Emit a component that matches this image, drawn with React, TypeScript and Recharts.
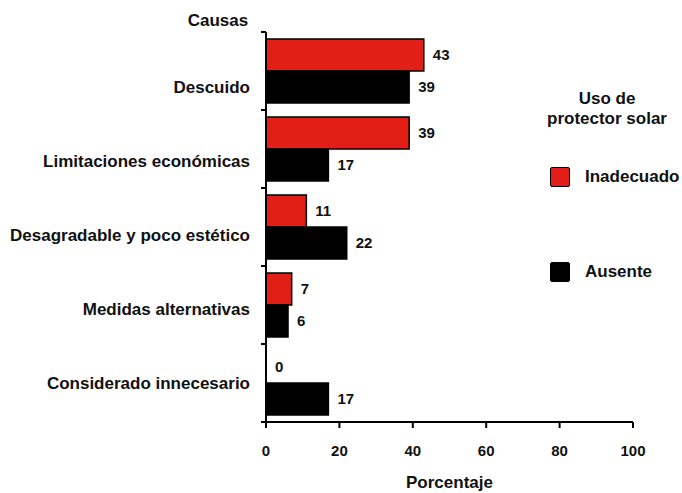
import { Bar, BarChart, LabelList, XAxis, YAxis } from "recharts";

const causas = [
  "Descuido",
  "Limitaciones económicas",
  "Desagradable y poco estético",
  "Medidas alternativas",
  "Considerado innecesario",
];
const inadecuado = [43, 39, 11, 7, 0];
const ausente = [39, 17, 22, 6, 17];
const xTicks = [0, 20, 40, 60, 80, 100];

const data = causas.map((c, i) => ({ causa: c, inadecuado: inadecuado[i], ausente: ausente[i] }));

const RED = "#E21F16";
const FONT = "'Liberation Sans', Arial, sans-serif";
const labelStyle = { fontSize: 15, fontWeight: "bold", fill: "#111", fontFamily: FONT };

function CausaTick(props: any) {
  const { x, y, payload, index } = props;
  const half = payload?.offset || 39;
  const axisX = x + 16;
  const dy = (4 - index) * 4;
  return (
    <g>
      <line x1={axisX - 5} x2={axisX} y1={y - half} y2={y - half} stroke="#000" strokeWidth={2} />
      {index === causas.length - 1 && (
        <line x1={axisX - 5} x2={axisX} y1={y + half} y2={y + half} stroke="#000" strokeWidth={2} />
      )}
      <text x={x} y={y + dy} dy="0.36em" textAnchor="end" fontSize={17} fontWeight="bold" fill="#111" fontFamily={FONT}>
        {payload.value}
      </text>
    </g>
  );
}

// recharts skips the label of a zero-length bar, so the black bar's label
// also writes the red value when that one is 0 (placed one bar height up)
function AusenteLabel(props: any) {
  const { x, y, width, height, value, index } = props;
  const ty = y + height / 2;
  return (
    <g>
      <text x={x + width + 9} y={ty} dy="0.36em" {...labelStyle}>{value}</text>
      {inadecuado[index] === 0 && (
        <text x={x + 9} y={ty - height} dy="0.36em" {...labelStyle}>{inadecuado[index]}</text>
      )}
    </g>
  );
}

export default function App() {
  return (
    <div style={{ position: "absolute", left: 0, top: 0, width: 682, height: 493, background: "#fff", fontFamily: FONT }}>
      <BarChart
        width={682}
        height={493}
        data={data}
        layout="vertical"
        margin={{ top: 32, right: 49, bottom: 0, left: 0 }}
        barCategoryGap={7}
        barGap={0}
      >
        <XAxis
          type="number"
          domain={[0, 100]}
          ticks={xTicks}
          height={71}
          axisLine={{ stroke: "#000", strokeWidth: 2 }}
          tickLine={{ stroke: "#000", strokeWidth: 2 }}
          tickSize={6}
          tickMargin={17}
          tick={{ fontSize: 15, fontWeight: "bold", fill: "#111", fontFamily: FONT }}
          label={{ value: "Porcentaje", position: "insideBottom", offset: 5, fontSize: 17, fontWeight: "bold", fill: "#111", fontFamily: FONT }}
        />
        <YAxis
          type="category"
          dataKey="causa"
          width={266}
          axisLine={{ stroke: "#000", strokeWidth: 2 }}
          tickLine={false}
          tickSize={5}
          tickMargin={11}
          interval={0}
          tick={<CausaTick />}
        />
        <Bar dataKey="inadecuado" fill={RED} stroke="#000" strokeWidth={1.5} isAnimationActive={false}>
          <LabelList dataKey="inadecuado" position="right" offset={9} {...labelStyle} />
        </Bar>
        <Bar dataKey="ausente" fill="#000" stroke="#000" strokeWidth={1.5} isAnimationActive={false}>
          <LabelList dataKey="ausente" content={<AusenteLabel />} />
        </Bar>
      </BarChart>

      <div style={{ position: "absolute", left: 180, top: 11, width: 76, textAlign: "center", fontSize: 17, fontWeight: "bold", color: "#111" }}>
        Causas
      </div>

      <div style={{ position: "absolute", left: 540, top: 89, width: 134, textAlign: "center", fontSize: 17, fontWeight: "bold", color: "#111", lineHeight: "20px" }}>
        Uso de
        <br />
        protector solar
      </div>
      <div style={{ position: "absolute", left: 550, top: 167, width: 18, height: 18, background: RED, border: "1.5px solid #000", borderRadius: 2 }} />
      <div style={{ position: "absolute", left: 585, top: 166, fontSize: 17, fontWeight: "bold", color: "#111", lineHeight: "22px" }}>
        Inadecuado
      </div>
      <div style={{ position: "absolute", left: 550, top: 262, width: 18, height: 18, background: "#000", border: "1.5px solid #000", borderRadius: 2 }} />
      <div style={{ position: "absolute", left: 585, top: 261, fontSize: 17, fontWeight: "bold", color: "#111", lineHeight: "22px" }}>
        Ausente
      </div>
    </div>
  );
}
